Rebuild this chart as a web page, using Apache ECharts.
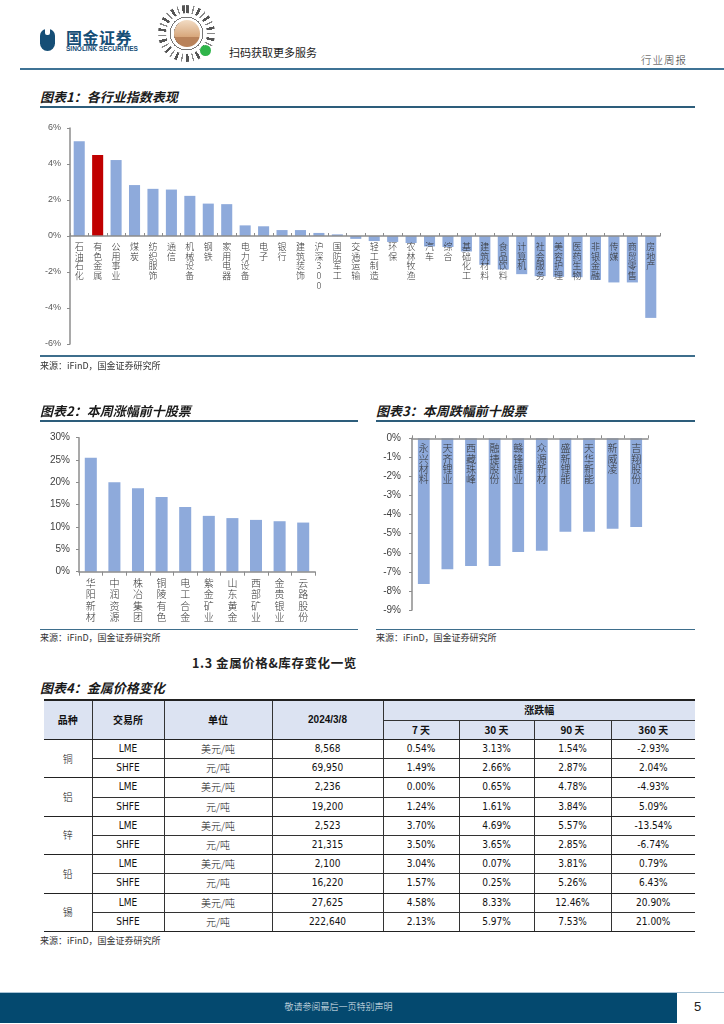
<!DOCTYPE html>
<html>
<head>
<meta charset="utf-8">
<script src="https://cdn.jsdelivr.net/npm/echarts@6/dist/echarts.min.js"></script>
<style>
  html,body{margin:0;padding:0;}
  body{width:724px;height:1024px;position:relative;background:#fff;overflow:hidden;
       font-family:"Noto Sans CJK SC","Noto Sans",sans-serif;color:#222;}
  .abs{position:absolute;}
  .ttl{position:absolute;font-size:13px;font-weight:bold;font-style:italic;color:#1a1a1a;line-height:16px;white-space:nowrap;}
  .src{position:absolute;font-size:9px;color:#333;line-height:12px;white-space:nowrap;}
  .rule{position:absolute;height:2px;background:#2d5d7b;}
  .rule2{position:absolute;height:1.5px;background:#3e6e8c;}
  table.mt{position:absolute;left:44px;top:699px;width:651px;border-collapse:collapse;table-layout:fixed;
           font-size:10px;color:#111;}
  table.mt td, table.mt th{padding:0;text-align:center;vertical-align:middle;line-height:12px;
           font-family:"Liberation Sans Narrow","DejaVu Sans Condensed","Liberation Sans","Noto Sans CJK SC",sans-serif;}
  table.mt th{height:18.5px;background:#dce3f2;font-weight:bold;font-family:"Noto Sans CJK SC",sans-serif;font-size:10px;}
  table.mt td{height:18.2px;}
  .cjk{font-family:"Noto Sans CJK SC",sans-serif !important;font-weight:300;}
</style>
</head>
<body>
<!-- header -->
<div class="abs" style="left:40px;top:29px;width:15px;height:22px;background:#154e76;border-radius:7px 7px 8px 8px;"></div>
<div class="abs" style="left:45px;top:29px;width:5px;height:6px;background:#fff;border-radius:0 0 2px 2px;"></div>
<div class="abs" style="left:66px;top:28px;font-size:16px;font-weight:bold;color:#154e76;line-height:18px;letter-spacing:0.5px;">国金证券</div>
<div class="abs" style="left:66px;top:45px;font-size:6.5px;font-weight:bold;color:#154e76;line-height:8px;font-family:'Liberation Sans',sans-serif;">SINOLINK SECURITIES</div>
<div class="abs" style="left:158px;top:5px;width:57px;height:57px;border-radius:50%;
     background:repeating-conic-gradient(#555 0 6deg,#fff 6deg 14deg,#888 14deg 17deg,#fff 17deg 25deg);"></div>
<div class="abs" style="left:166px;top:13px;width:41px;height:41px;border-radius:50%;background:#fff;"></div>
<div class="abs" style="left:168px;top:15px;width:37px;height:37px;border-radius:50%;
     background:repeating-radial-gradient(circle,#777 0 1px,#fff 1px 4px);"></div>
<div class="abs" style="left:174px;top:20px;width:26px;height:27px;border-radius:50%;background:linear-gradient(#f2dcc4,#d8a77c 62%,#b9825a 63%);"></div>
<div class="abs" style="left:200px;top:45px;width:11px;height:11px;border-radius:50%;background:#2fb54a;"></div>
<div class="abs" style="left:229px;top:45px;font-size:11px;color:#222;line-height:14px;">扫码获取更多服务</div>
<div class="abs" style="left:641px;top:53px;font-size:10.5px;color:#333;line-height:13px;letter-spacing:1px;font-weight:300;">行业周报</div>
<div class="abs" style="left:20px;top:67.5px;width:704px;height:2px;background:#3f7395;"></div>

<!-- chart 1 -->
<div class="ttl" style="left:40px;top:89px;">图表1：各行业指数表现</div>
<div class="rule" style="left:40px;top:106px;width:655px;"></div>
<div id="c1" class="abs" style="left:0;top:110px;width:724px;height:250px;"></div>
<div class="rule2" style="left:40px;top:355px;width:655px;"></div>
<div class="src" style="left:40px;top:360px;">来源：iFinD，国金证券研究所</div>

<!-- chart 2 & 3 -->
<div class="ttl" style="left:40px;top:403px;">图表2：本周涨幅前十股票</div>
<div class="rule" style="left:40px;top:420px;width:318px;"></div>
<div class="ttl" style="left:376px;top:403px;">图表3：本周跌幅前十股票</div>
<div class="rule" style="left:376px;top:420px;width:319px;"></div>
<div id="c2" class="abs" style="left:0;top:425px;width:370px;height:200px;"></div>
<div id="c3" class="abs" style="left:360px;top:425px;width:364px;height:200px;"></div>
<div class="rule2" style="left:40px;top:628.5px;width:318px;"></div>
<div class="rule2" style="left:376px;top:628.5px;width:319px;"></div>
<div class="src" style="left:40px;top:632px;">来源：iFinD，国金证券研究所</div>
<div class="src" style="left:376px;top:632px;">来源：iFinD，国金证券研究所</div>

<!-- table -->
<div class="abs" style="left:192px;top:655px;font-size:12.5px;font-weight:bold;line-height:16px;letter-spacing:0.6px;">1.3 金属价格&amp;库存变化一览</div>
<div class="ttl" style="left:40px;top:680px;">图表4：金属价格变化</div>
<table class="mt" id="mt"></table>
<div class="src" style="left:40px;top:935px;">来源：iFinD，国金证券研究所</div>

<!-- footer -->
<div class="abs" style="left:0;top:992px;width:724px;height:1px;background:#a9c3d5;"></div>
<div class="abs" style="left:0;top:993px;width:677px;height:30px;background:#04496f;"></div>
<div class="abs" style="left:0;top:1001px;width:677px;text-align:center;font-size:9px;color:#e4edf3;line-height:12px;font-weight:300;">敬请参阅最后一页特别声明</div>
<div class="abs" style="left:694px;top:999px;font-size:13px;color:#222;line-height:16px;font-family:'Liberation Sans',sans-serif;">5</div>

<script>
// ---------- data ----------
const industries = ['石油石化','有色金属','公用事业','煤炭','纺织服饰','通信','机械设备','钢铁','家用电器','电力设备','电子','银行','建筑装饰','沪深300','国防军工','交通运输','轻工制造','环保','农林牧渔','汽车','综合','基础化工','建筑材料','食品饮料','计算机','社会服务','美容护理','医药生物','非银金融','传媒','商贸零售','房地产'];
const industryChg = [5.26,4.50,4.22,2.83,2.62,2.58,2.23,1.80,1.77,0.59,0.54,0.33,0.33,0.17,0.09,-0.16,-0.28,-0.33,-0.39,-0.58,-0.61,-0.86,-1.60,-1.86,-2.12,-2.23,-2.27,-2.29,-2.44,-2.58,-2.58,-4.55];
const highlightIndustry = '有色金属';

const gainers = ['华阳新材','中润资源','株冶集团','铜陵有色','电工合金','紫金矿业','山东黄金','西部矿业','金贵银业','云路股份'];
const gainerChg = [25.5,20.0,18.7,16.7,14.5,12.5,12.0,11.6,11.3,11.0];

const losers = ['永兴材料','天齐锂业','西藏珠峰','融捷股份','赣锋锂业','众源新材','盛新锂能','天华新能','新威凌','吉翔股份'];
const loserChg = [-7.64,-6.86,-6.70,-6.70,-5.96,-5.89,-4.90,-4.90,-4.74,-4.65];

const metals = ['铜','铝','锌','铅','锡'];
const exchanges = ['LME','SHFE'];
const units = ['美元/吨','元/吨'];
const priceDate = '2024/3/8';
const periods = ['7 天','30 天','90 天','360 天'];
const prices = [['8,568','69,950'],['2,236','19,200'],['2,523','21,315'],['2,100','16,220'],['27,625','222,640']];
const chg7   = [['0.54%','1.49%'],['0.00%','1.24%'],['3.70%','3.50%'],['3.04%','1.57%'],['4.58%','2.13%']];
const chg30  = [['3.13%','2.66%'],['0.65%','1.61%'],['4.69%','3.65%'],['0.07%','0.25%'],['8.33%','5.97%']];
const chg90  = [['1.54%','2.87%'],['4.78%','3.84%'],['5.57%','2.85%'],['3.81%','5.26%'],['12.46%','7.53%']];
const chg360 = [['-2.93%','2.04%'],['-4.93%','5.09%'],['-13.54%','-6.74%'],['0.79%','6.43%'],['20.90%','21.00%']];

// ---------- charts ----------
const CJK = '"Noto Sans CJK SC", sans-serif';
const NUM = '"Liberation Sans", Arial, sans-serif';
const BAR = '#8eaadb';
const AX = '#8c8c8c';
const vert = v => v.split('').join('\n');

function valueAxis(min, max, interval, fs, color, margin) {
  return {
    type: 'value', min: min, max: max, interval: interval,
    splitLine: { show: false },
    axisLine: { show: true, lineStyle: { color: AX, width: 1.5 } },
    axisTick: { show: true, length: 3, lineStyle: { color: AX, width: 1 } },
    axisLabel: { formatter: '{value}%', fontSize: fs, color: color, margin: margin, fontFamily: NUM }
  };
}

// category axis placed at the zero line through an offset from the grid bottom
function catAxis(data, offset, tickInside, tickLen, margin, fs, lh) {
  return {
    type: 'category', data: data, z: 10, position: 'bottom', offset: offset,
    axisLine: { onZero: false, lineStyle: { color: AX, width: 1.6 } },
    axisTick: { show: true, inside: tickInside, length: tickLen, lineStyle: { color: AX } },
    axisLabel: { interval: 0, margin: margin, fontSize: fs, lineHeight: lh, color: '#333',
                 fontFamily: CJK, fontWeight: 300, formatter: vert, hideOverlap: false }
  };
}

const g1 = { left: 70, right: 64, top: 18, bottom: 16 };
const h1 = 250 - g1.top - g1.bottom;
const c1 = echarts.init(document.getElementById('c1'), null, { renderer: 'canvas' });
c1.setOption({
  animation: false,
  grid: Object.assign({ containLabel: false, outerBoundsMode: 'none' }, g1),
  xAxis: catAxis(industries, -h1 / 2, true, 3, 6, 9, 9.6),
  yAxis: valueAxis(-6, 6, 2, 9, '#595959', 9),
  series: [{
    type: 'bar', barCategoryGap: '40%',
    data: industryChg.map((v, i) => ({ value: v, itemStyle: { color: industries[i] === highlightIndustry ? '#c00000' : BAR } }))
  }]
});

const c2 = echarts.init(document.getElementById('c2'), null, { renderer: 'canvas' });
c2.setOption({
  animation: false,
  grid: { left: 79, right: 55, top: 12.7, bottom: 53.3, containLabel: false, outerBoundsMode: 'none' },
  xAxis: catAxis(gainers, 0, false, 4, 6, 10, 11.3),
  yAxis: valueAxis(0, 30, 5, 10, '#404040', 9),
  series: [{ type: 'bar', barCategoryGap: '49%', data: gainerChg, itemStyle: { color: BAR } }]
});

const g3 = { left: 52, right: 76, top: 13.3, bottom: 15 };
const h3 = 200 - g3.top - g3.bottom;
const c3 = echarts.init(document.getElementById('c3'), null, { renderer: 'canvas' });
c3.setOption({
  animation: false,
  grid: Object.assign({ containLabel: false, outerBoundsMode: 'none' }, g3),
  xAxis: catAxis(losers, -h3, true, 3, 5, 10, 10.3),
  yAxis: valueAxis(-9, 0, 1, 10, '#404040', 11),
  series: [{ type: 'bar', barCategoryGap: '50%', data: loserChg, itemStyle: { color: BAR } }]
});

// ---------- table ----------
const colW = [48, 72, 108, 111, 76, 75, 77, 84];
const THICK = '1.6px solid #222';
const THIN = '1px solid #333';
let html = '<colgroup>' + colW.map(w => '<col style="width:' + w + 'px">').join('') + '</colgroup>';
html += '<tr style="border-top:2px solid #222">' +
  '<th rowspan="2" style="border-bottom:' + THICK + '">品种</th>' +
  '<th rowspan="2" style="border-left:' + THIN + ';border-bottom:' + THICK + '">交易所</th>' +
  '<th rowspan="2" style="border-left:' + THIN + ';border-bottom:' + THICK + '">单位</th>' +
  '<th rowspan="2" style="border-left:' + THIN + ';border-bottom:' + THICK + ';font-family:\'Liberation Sans\',sans-serif">' + priceDate + '</th>' +
  '<th colspan="4" style="border-left:' + THIN + ';border-bottom:' + THIN + '">涨跌幅</th></tr>';
html += '<tr>' + periods.map(p => '<th style="border-left:' + THIN + ';border-bottom:' + THICK + '">' + p + '</th>').join('') + '</tr>';
metals.forEach((m, i) => {
  for (let j = 0; j < 2; j++) {
    const bb = j === 0 ? THIN : THICK;
    html += '<tr>';
    if (j === 0) html += '<td rowspan="2" class="cjk" style="border-bottom:' + THICK + '">' + m + '</td>';
    const cells = [exchanges[j], units[j], prices[i][j], chg7[i][j], chg30[i][j], chg90[i][j], chg360[i][j]];
    cells.forEach((c, k) => {
      html += '<td' + (k === 1 ? ' class="cjk"' : '') + ' style="border-left:' + THIN + ';border-bottom:' + bb + '">' + c + '</td>';
    });
    html += '</tr>';
  }
});
document.getElementById('mt').innerHTML = html;
</script>
</body>
</html>
